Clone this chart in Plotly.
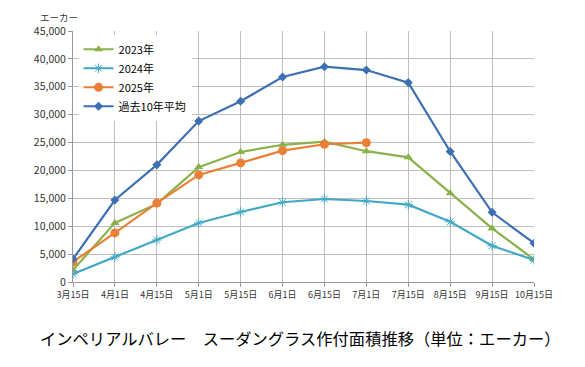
import plotly.graph_objects as go

categories = ["3月15日", "4月1日", "4月15日", "5月1日", "5月15日", "6月1日",
              "6月15日", "7月1日", "7月15日", "8月15日", "9月15日", "10月15日"]
y2023 = [2150, 10600, 14000, 20600, 23300, 24600, 25150, 23450, 22350, 15900, 9600, 4050]
y2024 = [1450, 4480, 7530, 10580, 12550, 14300, 14880, 14520, 13860, 10800, 6500, 3950]
y2025 = [3620, 8800, 14150, 19200, 21350, 23550, 24700, 24970, None, None, None, None]
yavg = [4120, 14700, 21000, 28850, 32400, 36750, 38600, 38000, 35750, 23400, 12500, 6950]
y_ticks = list(range(0, 45001, 5000))

font = "Noto Sans CJK JP, sans-serif"
W, H = 577, 359
L, R, T, B = 65, 51, 23, 85
OFF = 8  # page body margin

fig = go.Figure()
fig.add_trace(go.Scatter(x=categories, y=y2023, name="2023年", mode="lines+markers",
                         line=dict(color="#8BB14A", width=2.2),
                         marker=dict(symbol="triangle-up", size=8, color="#8BB14A")))
fig.add_trace(go.Scatter(x=categories, y=y2024, name="2024年", mode="lines+markers",
                         line=dict(color="#42A8C4", width=2.2),
                         marker=dict(symbol="asterisk-open", size=8, color="#42A8C4",
                                     line=dict(color="#42A8C4", width=1))))
fig.add_trace(go.Scatter(x=categories, y=y2025, name="2025年", mode="lines+markers",
                         line=dict(color="#EA8035", width=2.2),
                         marker=dict(symbol="circle", size=9, color="#EA8035")))
fig.add_trace(go.Scatter(x=categories, y=yavg, name="過去10年平均", mode="lines+markers",
                         line=dict(color="#3E6FB3", width=2.2),
                         marker=dict(symbol="diamond", size=7, color="#3E6FB3")))

fig.update_layout(
    width=W, height=H,
    margin=dict(l=L, r=R, t=T, b=B),
    paper_bgcolor="white", plot_bgcolor="white",
    font=dict(family=font, color="#333333", size=10),
    showlegend=True,
    legend=dict(x=0.012, y=0.985, xanchor="left", yanchor="top",
                bgcolor="white", font=dict(size=11, color="#000000"),
                tracegroupgap=0, itemwidth=30),
    xaxis=dict(type="category", range=[0, 11], showgrid=True, gridcolor="#BFBFBF",
               gridwidth=1, linecolor="#999999", showline=True, ticks="outside",
               tickcolor="#999999", ticklen=4, tickfont=dict(size=9, color="#333333"),
               zeroline=False, fixedrange=True),
    yaxis=dict(range=[0, 45000], tickvals=y_ticks, tickformat=",", showgrid=True,
               gridcolor="#BFBFBF", gridwidth=1, linecolor="#999999", showline=True,
               ticks="outside", tickcolor="#999999", ticklen=4,
               tickfont=dict(size=10.5, color="#333333"), zeroline=False),
)

pw = W - L - R
ph = H - T - B


def pix(px, py):
    # window pixel -> paper coords
    return (px - OFF - L) / pw, (H - B - (py - OFF)) / ph


for text, px, py, size, col in [
    ("エーカー", 59, 17, 9.5, "#333333"),
    ("インペリアルバレー　スーダングラス作付面積推移（単位：エーカー）", 300, 338, 16.3, "#000000"),
]:
    x, y = pix(px, py)
    fig.add_annotation(text=text, x=x, y=y, xref="paper", yref="paper", showarrow=False,
                       xanchor="center", yanchor="middle", font=dict(size=size, color=col))

fig.write_html("out.html")
